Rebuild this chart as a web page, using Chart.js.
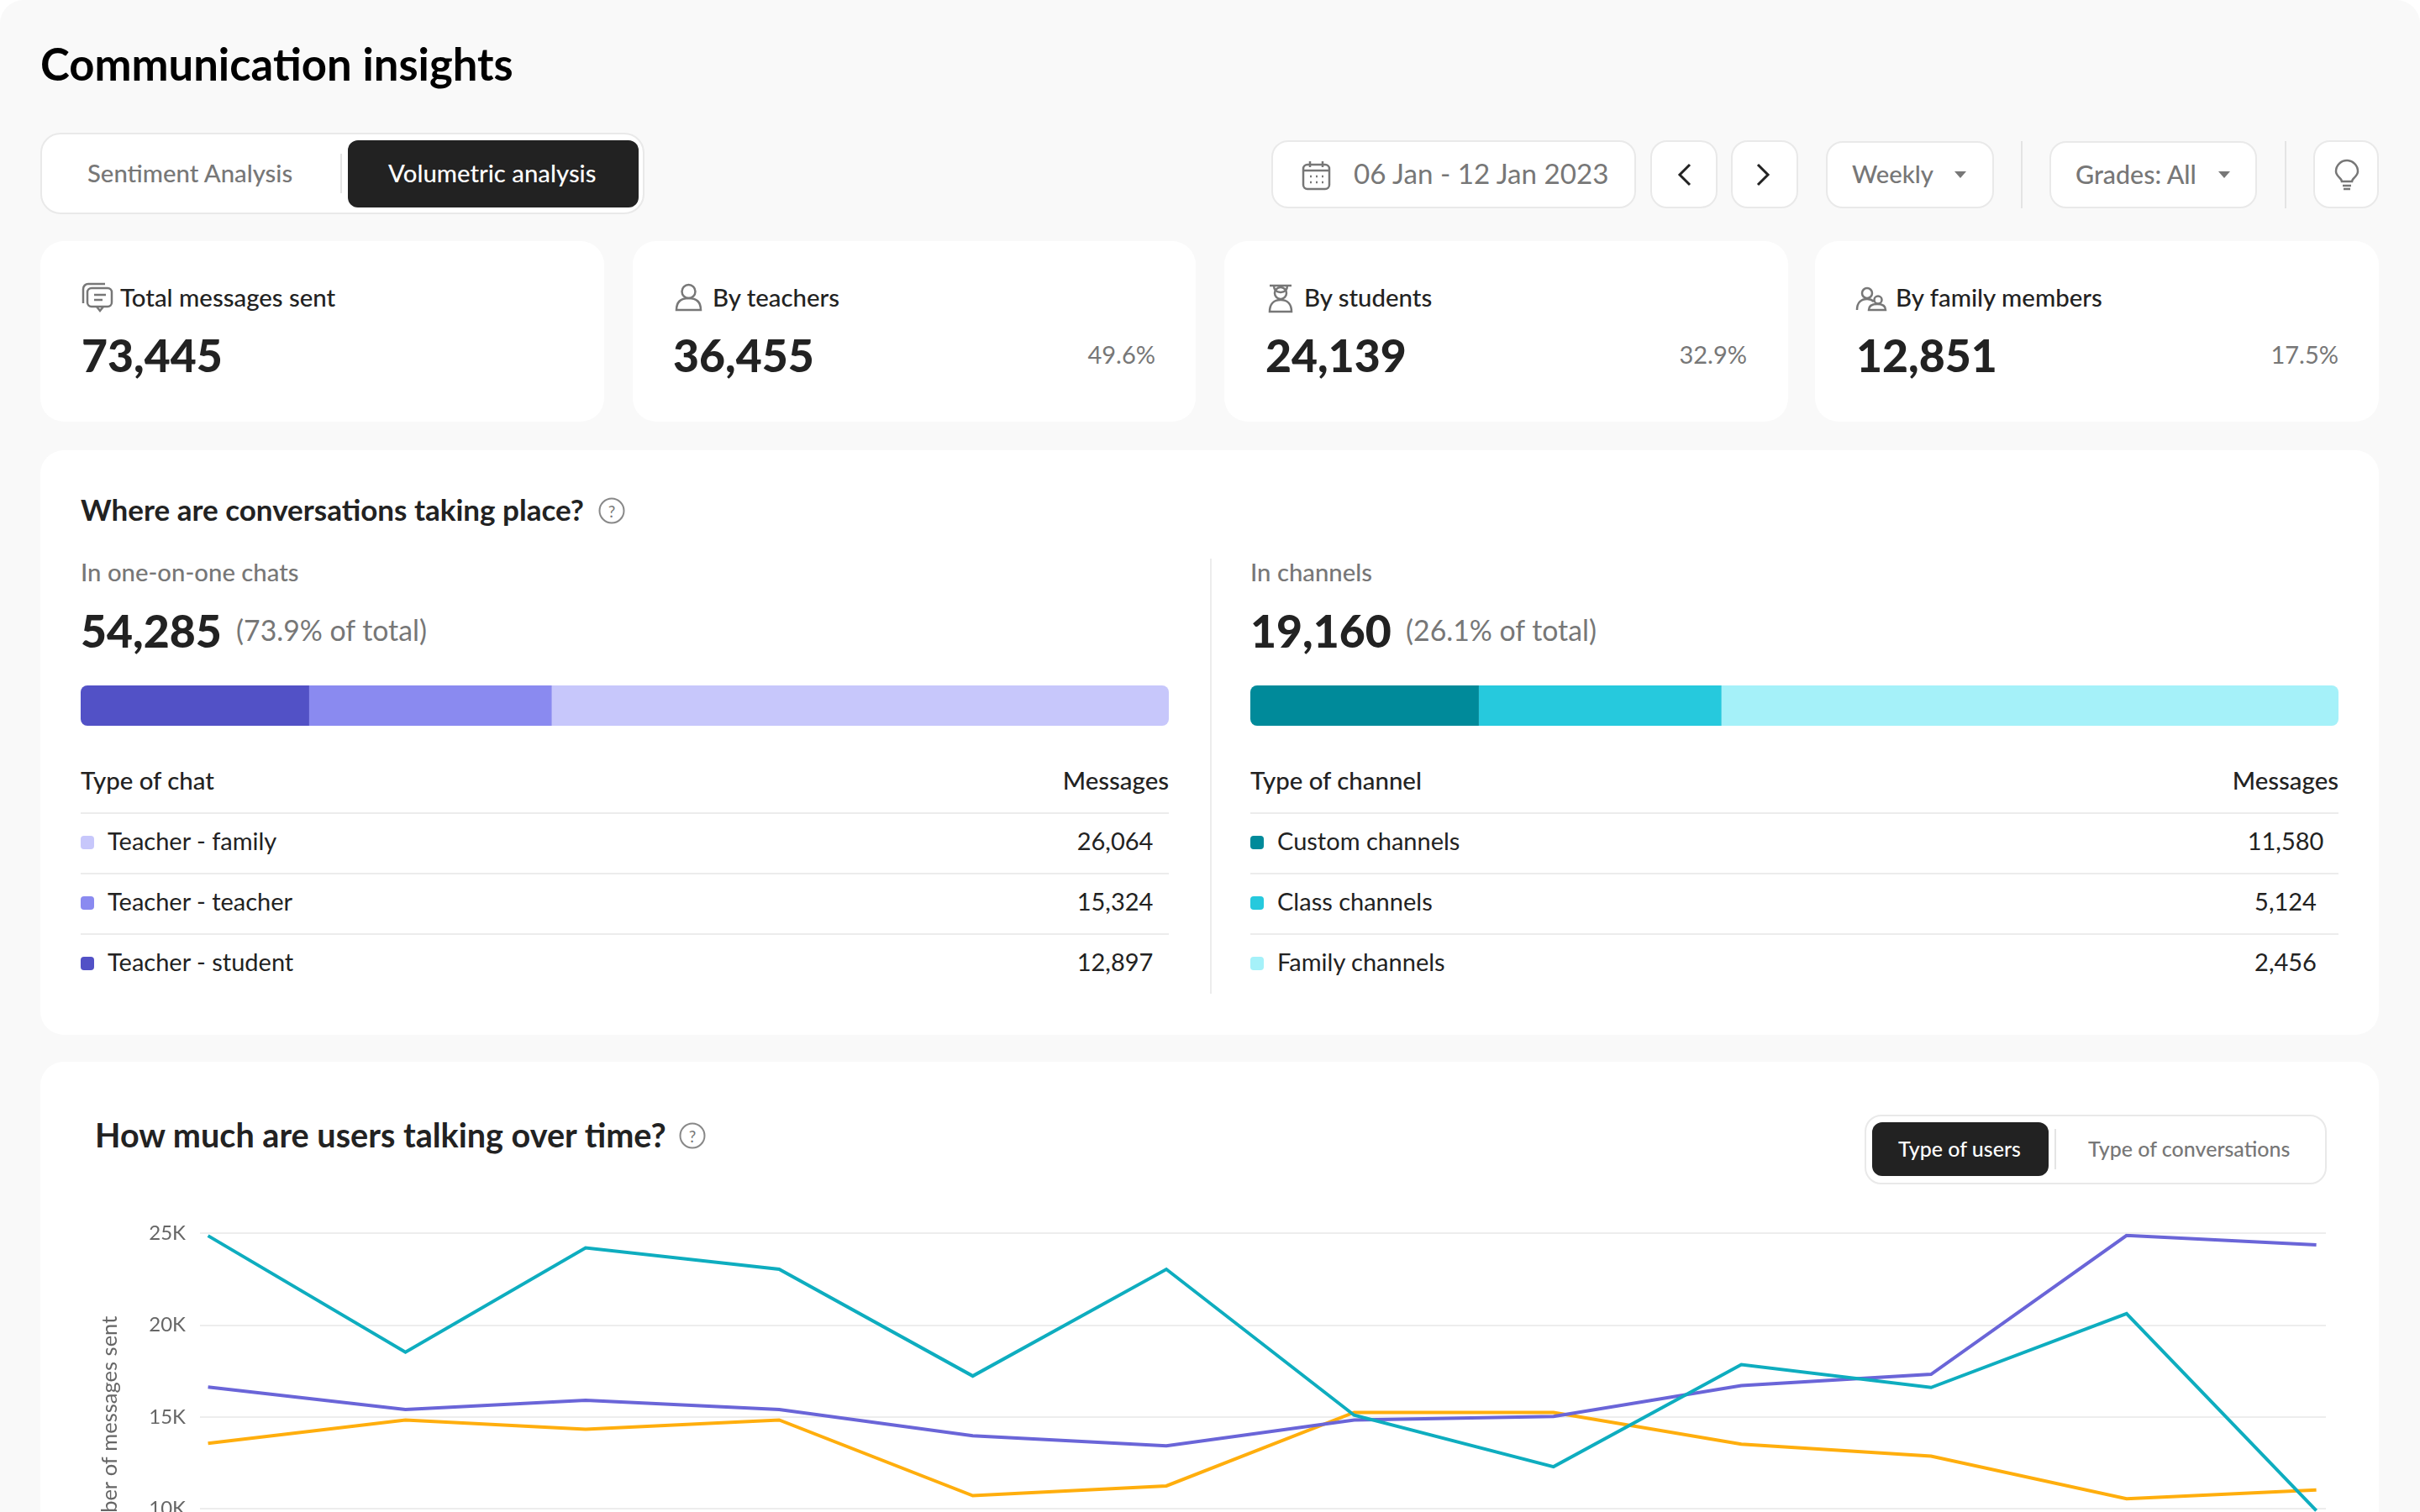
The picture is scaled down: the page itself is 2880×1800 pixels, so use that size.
<!DOCTYPE html>
<html lang="en">
<head>
<meta charset="utf-8">
<title>Communication insights</title>
<script src="https://cdn.jsdelivr.net/npm/chart.js@4"></script>
<style>
  html, body { margin: 0; padding: 0; width: 2880px; height: 1800px; overflow: hidden; background: #fff; }
  body { font-family: Lato, "Noto Sans", sans-serif; color: #222; position: relative; }
  #page { position: absolute; left: 0; top: 0; width: 2880px; height: 1800px; background: #f9f9f9; border-radius: 28px 28px 0 0; overflow: hidden; }
  .card { position: absolute; background: #fff; border-radius: 28px; }
  .box { position: absolute; box-sizing: border-box; background: #fff; border: 2px solid #e9e9e9; border-radius: 20px; }
  .pill { position: absolute; background: #222; border-radius: 12px; }
  .sep { position: absolute; width: 2px; background: #e4e4e4; }
  .rule { position: absolute; height: 2px; background: #ececec; }
  .swatch { position: absolute; width: 16px; height: 16px; border-radius: 4px; }
  .t { position: absolute; white-space: nowrap; line-height: 1.2; }
  .grey { color: #777; }
  .ctl { color: #777; font-size: 33.2px; }
  .tab { font-size: 29.3px; font-weight: 500; }
  .stat { font-size: 29.4px; font-weight: 500; }
  .big { font-size: 53.5px; font-weight: 900; }
  .pct { font-size: 29px; color: #777; }
  .h2 { font-size: 35px; font-weight: 700; }
  .th { font-size: 29.4px; font-weight: 500; }
  .td { font-size: 29px; }
  svg { position: absolute; fill: none; stroke: #777; stroke-width: 2.5; overflow: visible; }
  canvas { position: absolute; }
</style>
</head>
<body>
<div id="page">
  <div class="box" style="left:48px;top:158px;width:719px;height:97px;border-radius:24px"></div>
  <div class="pill" style="left:414px;top:167px;width:346px;height:80px"></div>
  <div class="sep" style="left:405px;top:183px;height:47px"></div>

  <div class="box" style="left:1513px;top:167px;width:434px;height:81px"></div>
  <div class="box" style="left:1964px;top:167px;width:80px;height:81px"></div>
  <div class="box" style="left:2060px;top:167px;width:80px;height:81px"></div>
  <div class="box" style="left:2173px;top:168px;width:200px;height:80px"></div>
  <div class="sep" style="left:2405px;top:168px;height:80px"></div>
  <div class="box" style="left:2439px;top:168px;width:247px;height:80px"></div>
  <div class="sep" style="left:2719px;top:168px;height:80px"></div>
  <div class="box" style="left:2753px;top:167px;width:78px;height:81px"></div>

  <!-- calendar -->
  <svg style="left:1550px;top:191px" width="33" height="35" viewBox="0 0 33 35">
    <rect x="1" y="5" width="31" height="29" rx="5"/><path d="M1 12h31M9 1v7M24 1v7"/>
    <path d="M9 19h2M16 19h2M23 19h2M9 26h2M16 26h2M23 26h2"/>
  </svg>
  <!-- prev / next -->
  <svg style="left:1997px;top:195px;stroke:#222;stroke-width:3" width="16" height="26"><path d="M14 1L2 13l12 12"/></svg>
  <svg style="left:2090px;top:195px;stroke:#222;stroke-width:3" width="16" height="26"><path d="M2 1l12 12L2 25"/></svg>
  <!-- dropdown arrows -->
  <svg style="left:2326px;top:204px;fill:#777;stroke:none" width="14" height="8"><path d="M0 0h14L7 8z"/></svg>
  <svg style="left:2640px;top:204px;fill:#777;stroke:none" width="14" height="8"><path d="M0 0h14L7 8z"/></svg>
  <!-- bulb -->
  <svg style="left:2779px;top:191px" width="28" height="35" viewBox="0 0 28 35">
    <path d="M8 25c0-4-7-6-7-12a13 13 0 0 1 26 0c0 6-7 8-7 12z"/><path d="M9 30h10M10 34h8"/>
  </svg>

  <div class="card" style="left:48px;top:287px;width:671px;height:215px"></div>
  <div class="card" style="left:753px;top:287px;width:670px;height:215px"></div>
  <div class="card" style="left:1457px;top:287px;width:671px;height:215px"></div>
  <div class="card" style="left:2160px;top:287px;width:671px;height:215px"></div>

  <!-- stat icons -->
  <svg style="left:98px;top:337px" width="36" height="34" viewBox="0 0 36 34">
    <path d="M1 24V7a6 6 0 0 1 6-6h20"/><rect x="6" y="6" width="29" height="22" rx="5"/>
    <path d="M17 28l4 5 4-5M14 14h14M14 20h10"/>
  </svg>
  <svg style="left:803px;top:338px" width="33" height="32" viewBox="0 0 33 32">
    <circle cx="16.5" cy="9" r="8"/><path d="M2 31c0-10 6-14 14.5-14S31 21 31 31z"/>
  </svg>
  <svg style="left:1509px;top:339px" width="30" height="33" viewBox="0 0 30 33">
    <path d="M2 1h26M7 1c0 5 3 8 8 8s8-3 8-8"/><circle cx="15" cy="10" r="7"/><path d="M2 32c0-9 5-14 13-14s13 5 13 14z"/>
  </svg>
  <svg style="left:2209px;top:342px" width="36" height="28" viewBox="0 0 36 28">
    <circle cx="13" cy="7" r="6"/><path d="M1 27c0-9 5-13 12-13 3 0 6 1 8 3"/>
    <circle cx="26" cy="15" r="4.5"/><path d="M15 27c0-5 4-7 10-7s10 2 10 7z"/>
  </svg>

  <div class="card" style="left:48px;top:536px;width:2783px;height:696px"></div>
  <div class="sep" style="left:1440px;top:665px;height:518px;background:#ececec"></div>

  <div class="card" style="left:48px;top:1264px;width:2783px;height:700px"></div>
  <div class="box" style="left:2219px;top:1327px;width:550px;height:83px"></div>
  <div class="pill" style="left:2228px;top:1336px;width:210px;height:64px"></div>
  <div class="sep" style="left:2445px;top:1344px;height:48px"></div>

  <canvas id="chatBar" width="1295" height="48" style="left:96px;top:816px"></canvas>
  <canvas id="channelBar" width="1295" height="48" style="left:1488px;top:816px"></canvas>
  <canvas id="usersChart" width="2668" height="548" style="left:100px;top:1437px"></canvas>
</div>

<script>
/* ---------- Headline numbers ---------- */
const statLabels  = ['Total messages sent', 'By teachers', 'By students', 'By family members'];
const statValues  = ['73,445', '36,455', '24,139', '12,851'];
const statPercent = ['', '49.6%', '32.9%', '17.5%'];

/* ---------- One-on-one chats ---------- */
const chatTypes    = ['Teacher - family', 'Teacher - teacher', 'Teacher - student'];
const chatMessages = ['26,064', '15,324', '12,897'];
// widths of the bar segments (dark, mid, light)
const chatShares   = [21, 22.3, 56.7];
const chatColors   = ['#5251c6', '#8a8af0', '#c7c7fb'];

/* ---------- Channels ---------- */
const channelTypes    = ['Custom channels', 'Class channels', 'Family channels'];
const channelMessages = ['11,580', '5,124', '2,456'];
const channelShares   = [21, 22.3, 56.7];
const channelColors   = ['#008a9a', '#26c9dd', '#a5f1f9'];

/* ---------- Messages over time ---------- */
// the points are not evenly spaced in the picture, so x is read off as well
const periods  = [0, 1.03, 1.97, 2.98, 3.99, 5, 5.98, 7.02, 8, 8.99, 10.01, 11];
const students = [24875, 18530, 24220, 23050, 17235, 23050, 15100, 12295, 17860, 16610, 20635, 9900];
const teachers = [16630, 15410, 15910, 15410, 13980, 13430, 14840, 15030, 16710, 17330, 24890, 24375];
const families = [13570, 14840, 14340, 14840, 10720, 11250, 15250, 15250, 13525, 12870, 10550, 11030];
const yTicks   = [5000, 10000, 15000, 20000, 25000];

const TEAL   = '#0eadbf';
const PURPLE = '#6a65d8';
const ORANGE = '#ffae0d';

/* ---------- Text helpers ---------- */
const page = document.getElementById('page');

function put(text, x, y, cls, align, color) {
  const el = document.createElement('div');
  el.className = 't ' + (cls || '');
  el.textContent = text;
  el.style.left = x + 'px';
  el.style.top = y + 'px';
  const tx = align === 'r' ? '-100%' : align === 'c' ? '-50%' : '0';
  el.style.transform = `translate(${tx}, -50%)`;
  if (color) el.style.color = color;
  page.appendChild(el);
  return el;
}

function helpIcon(cx, cy) {
  const el = put('?', cx, cy, '', 'c', '#777');
  el.style.cssText += 'width:27px;height:27px;line-height:27px;text-align:center;font-size:19px;border:2px solid #888;border-radius:50%;';
}

put('Communication insights', 48, 76, '', 'l', '#000').style.cssText += 'font-size:52.6px;font-weight:700;';
put('Sentiment Analysis', 104, 206, 'tab grey');
put('Volumetric analysis', 462, 206, 'tab', 'l', '#fff');
put('06 Jan - 12 Jan 2023', 1611, 207, 'ctl');
put('Weekly', 2204, 207, 'tab grey');
put('Grades: All', 2470, 207, 'tab grey').style.fontSize = '30.4px';

const statX     = [143, 848, 1552, 2256];
const valueX    = [97, 801, 1506, 2209];
const percentX  = [0, 1375, 2079, 2783];
statLabels.forEach((label, i) => {
  put(label, statX[i], 354, 'stat');
  put(statValues[i], valueX[i], 422, 'big');
  if (statPercent[i]) put(statPercent[i], percentX[i], 422, 'pct', 'r');
});

put('Where are conversations taking place?', 96, 606, 'h2');
helpIcon(728, 608);

function conversationColumn(left, head, total, share, typeHead, types, messages, colors, valueCenter) {
  put(head, left, 681, 'tab grey');
  put(total, left, 750, 'big');
  put(share, left + 185, 750, 'grey').style.fontSize = '33.8px';
  put(typeHead, left, 929, 'th');
  put('Messages', left + 1295, 929, 'th', 'r');
  [967, 1039, 1111].forEach(y => {
    const r = document.createElement('div');
    r.className = 'rule';
    r.style.cssText = `left:${left}px;top:${y}px;width:1295px`;
    page.appendChild(r);
  });
  const rowY = [1001, 1073, 1145];
  const swatchY = [1003, 1075, 1147];
  types.forEach((type, i) => {
    const s = document.createElement('div');
    s.className = 'swatch';
    s.style.cssText = `left:${left}px;top:${swatchY[i] - 8}px;background:${colors[i]}`;
    page.appendChild(s);
    put(type, left + 32, rowY[i], 'td');
    put(messages[i], valueCenter, rowY[i], 'td', 'c');
  });
}

conversationColumn(96, 'In one-on-one chats', '54,285', '(73.9% of total)', 'Type of chat',
  chatTypes, chatMessages, [chatColors[2], chatColors[1], chatColors[0]], 1327);
conversationColumn(1488, 'In channels', '19,160', '(26.1% of total)', 'Type of channel',
  channelTypes, channelMessages, channelColors, 2720);

put('How much are users talking over time?', 113, 1351, 'h2').style.fontSize = '39.6px';
helpIcon(824, 1352);
put('Type of users', 2259, 1367, '', 'l', '#fff').style.cssText += 'font-size:25px;font-weight:500;';
put('Type of conversations', 2485, 1367, 'grey').style.cssText += 'font-size:25px;font-weight:500;';

/* ---------- Stacked share bars ---------- */
function shareBar(id, shares, colors) {
  const radius = 8;
  new Chart(document.getElementById(id), {
    type: 'bar',
    data: {
      labels: ['share'],
      datasets: shares.map((v, i) => ({
        data: [v],
        backgroundColor: colors[i],
        borderSkipped: false,
        inflateAmount: 0,
        borderRadius: i === 0 ? { topLeft: radius, bottomLeft: radius, topRight: 0, bottomRight: 0 }
          : i === shares.length - 1 ? { topRight: radius, bottomRight: radius, topLeft: 0, bottomLeft: 0 } : 0
      }))
    },
    options: {
      indexAxis: 'y',
      responsive: false,
      animation: false,
      barPercentage: 1,
      categoryPercentage: 1,
      layout: { padding: 0 },
      plugins: { legend: { display: false }, tooltip: { enabled: false } },
      scales: {
        x: { display: false, stacked: true, min: 0, max: 100 },
        y: { display: false, stacked: true }
      }
    }
  });
}

shareBar('chatBar', chatShares, chatColors);
shareBar('channelBar', channelShares, channelColors);

/* ---------- Line chart ---------- */
const toPoints = values => values.map((y, i) => ({ x: periods[i], y }));
const lineStyle = { borderWidth: 4, pointRadius: 0, tension: 0, borderJoinStyle: 'miter', fill: false };

new Chart(document.getElementById('usersChart'), {
  type: 'line',
  data: {
    datasets: [
      { label: 'By students', data: toPoints(students), borderColor: TEAL, ...lineStyle },
      { label: 'By teachers', data: toPoints(teachers), borderColor: PURPLE, ...lineStyle },
      { label: 'By family members', data: toPoints(families), borderColor: ORANGE, ...lineStyle }
    ]
  },
  options: {
    responsive: false,
    animation: false,
    layout: { autoPadding: false, padding: { top: 24.5, right: 0, bottom: 0, left: 0 } },
    plugins: { legend: { display: false }, tooltip: { enabled: false } },
    scales: {
      x: { type: 'linear', display: false, min: -0.042, max: 11.05 },
      y: {
        min: 2800,
        max: 25000,
        afterBuildTicks: scale => { scale.ticks = yTicks.map(value => ({ value })); },
        afterFit: scale => { scale.width = 138; },
        grid: { color: '#ededed', lineWidth: 2, drawTicks: false },
        border: { display: false },
        ticks: {
          padding: 17,
          color: '#666',
          font: { family: 'Lato', size: 24 },
          callback: v => (v / 1000) + 'K'
        },
        title: {
          display: true,
          text: 'Number of messages sent',
          color: '#666',
          font: { family: 'Lato', size: 25.5 },
          padding: { top: 15, bottom: 0 }
        }
      }
    }
  }
});
</script>
</body>
</html>
